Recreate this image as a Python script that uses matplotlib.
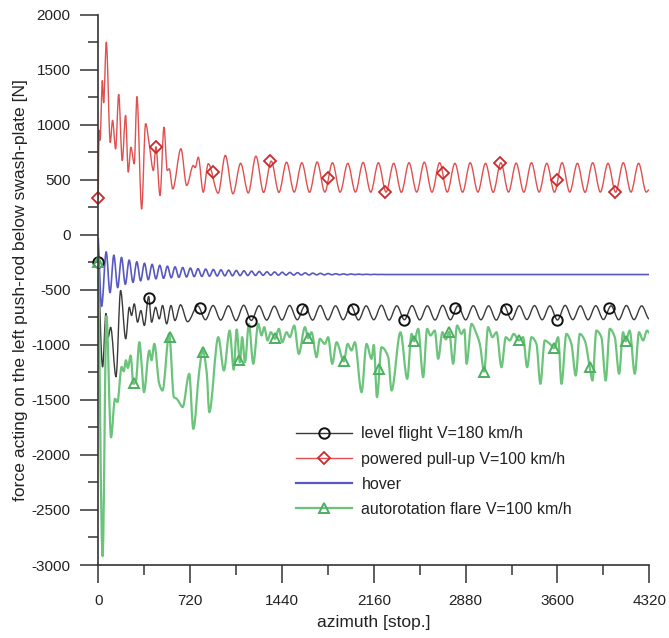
import numpy as np
import matplotlib
matplotlib.use("Agg")
import matplotlib.pyplot as plt
from matplotlib.path import Path
from matplotlib.patches import PathPatch
from matplotlib.lines import Line2D

plt.rcParams['font.family'] = ['Liberation Sans', 'DejaVu Sans']
plt.rcParams['axes.unicode_minus'] = False

# ---- level flight V=180 km/h (black), extrema ----
black_x_start = [0, 34, 60, 78, 97, 139, 175, 215, 243, 261, 282, 308, 334, 361,
                 395, 418, 449, 478, 504, 536, 570, 601, 645, 700]
black_y_start = [-250, -1200, -715, -930, -840, -1290, -506, -945, -658, -733, -627,
                 -794, -688, -824, -560, -794, -658, -764, -642, -809, -642, -779,
                 -636, -790]
black_peak_x = np.arange(780, 4261, 120)
black_peak_y = [-645, -642, -645, -640, -645, -648, -642, -645, -643, -645,
                -642, -645, -640, -645, -643, -645, -641, -645, -644, -645,
                -642, -645, -643, -645, -641, -645, -644, -645, -642, -645]
black_trough_x = np.arange(840, 4321, 120)
black_trough_y = [-772, -775, -780, -778, -775, -774, -772, -775, -773, -772,
                  -774, -772, -775, -772, -773, -774, -772, -773, -772, -775,
                  -772, -770, -772, -774, -771, -772, -770, -772, -771, -765]
black_mark_x = [0, 400, 800, 1200, 1600, 2000, 2400, 2800, 3200, 3600, 4000]
black_mark_y = [-250, -576, -666, -785, -670, -672, -772, -663, -672, -770, -663]

# ---- powered pull-up V=100 km/h (red) ----
red_x_start = [0, 6, 14, 32, 42, 63, 94, 112, 136, 160, 188, 214, 235, 256, 282, 303,
               340, 371, 400, 432, 452, 484, 515, 541, 556, 584, 648, 693, 745, 760,
               784, 823, 862, 940]
red_y_start = [330, 950, 860, 1400, 1200, 1750, 840, 1040, 780, 1275, 675, 1085, 570,
               795, 645, 1255, 235, 1010, 820, 584, 800, 357, 978, 584, 600, 417, 782,
               448, 630, 610, 705, 387, 646, 378]
red_peak_x = np.arange(996, 4237, 120)
red_peak_y = [722, 650, 715, 670, 660, 655, 662, 655, 650, 658, 655, 650, 655, 660,
              655, 650, 655, 650, 655, 652, 655, 650, 655, 650, 655, 650, 655, 650]
red_trough_x = np.arange(1056, 4297, 120)
red_trough_y = [372, 380, 385, 385, 388, 386, 388, 387, 388, 387, 388, 386, 388, 387,
                388, 387, 388, 386, 388, 387, 388, 387, 388, 386, 388, 387, 388, 388]
red_end = (4320, 410)
red_mark_x = [0, 450, 900, 1350, 1800, 2250, 2700, 3150, 3600, 4050]
red_mark_y = [330, 796, 570, 669, 518, 387, 560, 651, 500, 393]

# ---- hover (blue) ----
blue_x_start = [0, 26]
blue_y_start = [-36, -650]
blue_peak_x = np.arange(62, 2223, 60)
blue_peak_y = [-155, -185, -205, -230, -245, -258, -268, -277, -285, -291, -297, -302,
               -307, -311, -315, -318, -321, -324, -327, -330, -333, -336, -338, -340,
               -342, -344, -346, -348, -350, -352, -354, -355, -356, -357, -358, -359,
               -360]
blue_trough_x = np.arange(92, 2253, 60)
blue_trough_y = [-525, -480, -450, -432, -418, -408, -400, -395, -390, -386, -383, -380,
                 -378, -376, -374, -373, -372, -371, -370, -369, -368, -367, -367, -366,
                 -366, -365, -365, -364, -364, -363, -363, -363, -362, -362, -362, -361,
                 -361]
blue_end = (4320, -361)

# ---- autorotation flare V=100 km/h (green) ----
green_x = [0, 34, 64, 100, 131, 150, 183, 200, 217, 232, 254, 275, 295, 322, 340, 358,
           400, 418, 439, 478, 504, 556, 593, 615, 640, 661, 713, 745, 792, 818, 850,
           870, 941, 985, 1030, 1062, 1085, 1110, 1128, 1150, 1181, 1215, 1254, 1280,
           1301, 1327, 1353, 1385, 1416, 1442, 1476, 1502, 1536, 1572, 1620, 1646, 1672,
           1711, 1737, 1776, 1802, 1834, 1868, 1925, 1955, 1985, 2011, 2064, 2103, 2142,
           2160, 2185, 2220, 2273, 2299, 2369, 2422, 2456, 2476, 2508, 2547, 2578, 2604,
           2638, 2665, 2698, 2725, 2751, 2782, 2813, 2847, 2870, 2887, 2926, 2960, 2991,
           3025, 3056, 3090, 3122, 3161, 3195, 3226, 3257, 3297, 3330, 3362, 3396, 3435,
           3466, 3500, 3540, 3574, 3605, 3631, 3670, 3709, 3743, 3775, 3814, 3853, 3874,
           3905, 3944, 3978, 4010, 4049, 4083, 4114, 4135, 4166, 4206, 4239, 4271, 4302,
           4320]
green_y = [-250, -2920, -740, -1840, -1490, -1520, -1200, -1240, -1140, -1210, -1097,
           -1354, -1330, -976, -1180, -1430, -1051, -1140, -990, -1354, -1415, -900,
           -1476, -1490, -1533, -1566, -1263, -1763, -1233, -1051, -1250, -1612, -930,
           -1233, -870, -1225, -860, -1160, -930, -1157, -809, -1172, -809, -915, -839,
           -960, -885, -945, -854, -976, -885, -930, -824, -1082, -839, -939, -885,
           -1112, -945, -991, -930, -1172, -976, -1150, -991, -1051, -976, -1430, -991,
           -1127, -1000, -1475, -1021, -1112, -1415, -885, -1309, -900, -967, -854,
           -1294, -854, -915, -870, -1127, -885, -950, -880, -1172, -824, -900, -860,
           -1172, -809, -885, -991, -1242, -839, -930, -885, -1203, -930, -960, -900,
           -960, -930, -1203, -930, -991, -1354, -960, -991, -1030, -930, -1354, -900,
           -991, -1279, -900, -960, -1203, -1324, -870, -930, -1324, -854, -930, -1263,
           -885, -967, -870, -1263, -885, -960, -870, -890]
green_mark_x = [0, 280, 562, 823, 1103, 1385, 1646, 1928, 2200, 2476, 2751, 3025, 3297,
                3574, 3854, 4136]
green_mark_y = [-243, -1348, -924, -1067, -1136, -939, -939, -1142, -1220, -967, -885,
                -1242, -960, -1030, -1203, -967]


def interleave(a, b):
    out = np.empty(len(a) + len(b))
    out[0::2] = a
    out[1::2] = b
    return out


def smooth_path(xs, ys):
    """Bezier path through the points, monotone (pchip-like) tangents."""
    xs = np.asarray(xs, float)
    ys = np.asarray(ys, float)
    h = np.diff(xs)
    d = np.diff(ys) / h
    m = np.zeros_like(ys)
    for i in range(1, len(xs) - 1):
        if d[i - 1] * d[i] > 0:
            w1 = 2 * h[i] + h[i - 1]
            w2 = h[i] + 2 * h[i - 1]
            m[i] = (w1 + w2) / (w1 / d[i - 1] + w2 / d[i])
    m[0] = d[0]
    verts = [(xs[0], ys[0])]
    codes = [Path.MOVETO]
    for i in range(len(h)):
        verts += [(xs[i] + h[i] / 3, ys[i] + m[i] * h[i] / 3),
                  (xs[i + 1] - h[i] / 3, ys[i + 1] - m[i + 1] * h[i] / 3),
                  (xs[i + 1], ys[i + 1])]
        codes += [Path.CURVE4] * 3
    return Path(verts, codes)


black_x = np.concatenate([black_x_start, interleave(black_peak_x, black_trough_x)])
black_y = np.concatenate([black_y_start, interleave(black_peak_y, black_trough_y)])
red_x = np.concatenate([red_x_start, interleave(red_peak_x, red_trough_x), [red_end[0]]])
red_y = np.concatenate([red_y_start, interleave(red_peak_y, red_trough_y), [red_end[1]]])
blue_x = np.concatenate([blue_x_start, interleave(blue_peak_x, blue_trough_x), [blue_end[0]]])
blue_y = np.concatenate([blue_y_start, interleave(blue_peak_y, blue_trough_y), [blue_end[1]]])

c_black, c_red, c_blue, c_green = '#3a3a3a', '#e05050', '#5858c0', '#6cc47c'
m_red, m_green = '#cc2a2a', '#4cb060'

fig = plt.figure(figsize=(6.69, 6.38), dpi=100)
ax = fig.add_axes([0.1469, 0.1144, 0.8237, 0.8626])

for xs, ys, col, lw in [(black_x, black_y, c_black, 1.0),
                        (red_x, red_y, c_red, 1.0),
                        (blue_x, blue_y, c_blue, 1.2),
                        (green_x, green_y, c_green, 1.6)]:
    ax.add_patch(PathPatch(smooth_path(xs, ys), facecolor='none', edgecolor=col,
                           lw=lw, joinstyle='round', capstyle='round'))

mk_black = dict(marker='o', ms=7.5, mfc='none', mec='#111111', mew=1.4)
mk_red = dict(marker='D', ms=6, mfc='none', mec=m_red, mew=1.3)
mk_green = dict(marker='^', ms=7, mfc='none', mec=m_green, mew=1.4)
ax.plot(black_mark_x, black_mark_y, ls='none', clip_on=False, **mk_black)
ax.plot(red_mark_x, red_mark_y, ls='none', clip_on=False, **mk_red)
ax.plot(green_mark_x, green_mark_y, ls='none', clip_on=False, **mk_green)

ax.set_xlim(0, 4320)
ax.set_ylim(-3000, 2000)
ax.set_xticks(np.arange(0, 4321, 720))
ax.set_xticks(np.arange(360, 4321, 720), minor=True)
ax.set_yticks(np.arange(-3000, 2001, 500))
ax.set_yticks(np.arange(-2750, 2000, 500), minor=True)
for s in ['top', 'right']:
    ax.spines[s].set_visible(False)
for s in ['left', 'bottom']:
    ax.spines[s].set_color('#333333')
    ax.spines[s].set_linewidth(1.2)
ax.tick_params(which='major', direction='out', length=13, width=1.1, color='#333333',
               labelsize=11, labelcolor='#222222')
ax.tick_params(which='minor', direction='out', length=7, width=1.1, color='#333333')
ax.tick_params(axis='x', which='major', pad=8)
ax.tick_params(axis='y', which='major', pad=7)

ax.set_xlabel('azimuth [stop.]', fontsize=12.5, color='#222222')
ax.set_ylabel('force acting on the left push-rod below swash-plate [N]', fontsize=12.6,
              color='#222222')
ax.xaxis.set_label_coords(0.5, -0.09)
ax.yaxis.set_label_coords(-0.127, 0.5)

handles = [
    Line2D([], [], color=c_black, lw=1.0, **mk_black),
    Line2D([], [], color=c_red, lw=1.0, **mk_red),
    Line2D([], [], color=c_blue, lw=1.6),
    Line2D([], [], color=c_green, lw=1.6, **mk_green),
]
labels = ['level flight V=180 km/h', 'powered pull-up V=100 km/h', 'hover',
          'autorotation flare V=100 km/h']
leg = ax.legend(handles, labels, loc='upper left', bbox_to_anchor=(0.3588, 0.252),
                frameon=False, fontsize=11.5, handlelength=3.5, handletextpad=0.6,
                labelspacing=0.64, borderpad=0, borderaxespad=0)
for t in leg.get_texts():
    t.set_color('#222222')

fig.savefig('out.png', dpi=100)
